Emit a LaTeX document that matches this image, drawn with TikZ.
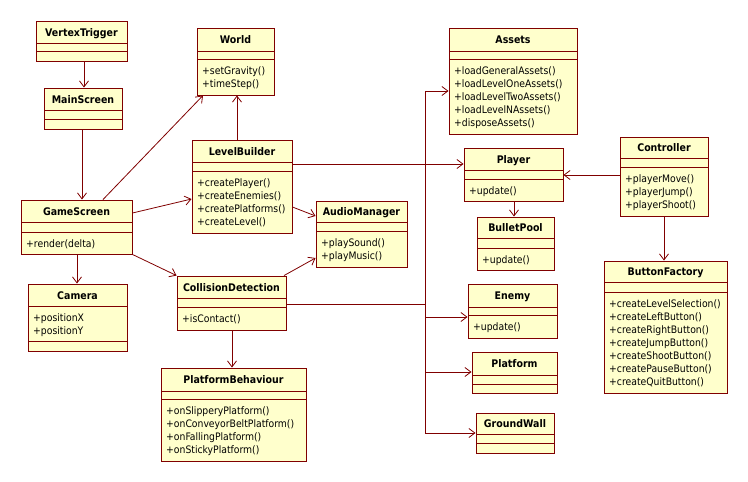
\documentclass[tikz,border=0pt]{standalone}
\usepackage{fontspec}
\setmainfont{DejaVu Sans Condensed}
\usetikzlibrary{arrows.meta,fit}
\definecolor{umlline}{RGB}{128,0,0}
\definecolor{umlfill}{RGB}{255,255,204}
\tikzset{
 clsbox/.style={draw=umlline, fill=umlfill, line width=0.9pt, inner sep=0pt},
 sepline/.style={draw=umlline, line width=0.9pt},
 clstitle/.style={font=\fontsize{10.5}{13}\selectfont\bfseries, inner sep=0pt, anchor=base},
 member/.style={font=\fontsize{10.3}{13}\selectfont, inner sep=0pt, anchor=base west},
 assoc/.style={draw=umlline, line width=0.8pt, -{Straight Barb[length=6pt,width=9pt,line width=0.8pt]}},
 plainline/.style={draw=umlline, line width=0.8pt},
}
\newcommand\umlclass[9]{%
  \node[clsbox, fit={(#2,#3) (#4,#5)}] (#1) {};
  \draw[sepline] (#2,#6) -- (#4,#6);
  \draw[sepline] (#2,#7) -- (#4,#7);
  \node[clstitle] (#1-t) at ({(#2+#4)/2},{(#3+#6)/2+4}) {#8};
  \if\relax\detokenize{#9}\relax\else
    \foreach \m [count=\i] in {#9} {\node[member] (#1-m\i) at (#2+5,{#7+2+13*\i}) {\m};}
  \fi
}
\begin{document}
\begin{tikzpicture}[x=1pt,y=-1pt]
\fill[white] (0,0) rectangle (748,482);
\useasboundingbox (0,0) rectangle (748,482);

\umlclass{vt}{36}{21}{127}{61}{43}{51}{VertexTrigger}{}
\umlclass{ms}{44}{88}{122}{129}{110}{119}{MainScreen}{}
\umlclass{world}{197}{28}{274}{95}{51}{59}{World}{+setGravity(),+timeStep()}
\umlclass{lb}{192}{140}{292}{233}{162}{171}{LevelBuilder}{+createPlayer(),+createEnemies(),+createPlatforms(),+createLevel()}
\umlclass{gs}{21}{200}{132}{254}{222}{232}{GameScreen}{+render(delta)}
\umlclass{cam}{28}{284}{127}{351}{306}{341}{Camera}{}
\node[member] (cam-m1) at (33,321) {+positionX};
\node[member] (cam-m2) at (33,334) {+positionY};
\umlclass{am}{316}{201}{407}{267}{222}{231}{AudioManager}{+playSound(),+playMusic()}
\umlclass{cd}{177}{276}{286}{330}{298}{307}{CollisionDetection}{+isContact()}
\umlclass{pb}{161}{368}{306}{461}{391}{399}{PlatformBehaviour}{+onSlipperyPlatform(),+onConveyorBeltPlatform(),+onFallingPlatform(),+onStickyPlatform()}
\umlclass{assets}{449}{28}{577}{134}{51}{59}{Assets}{+loadGeneralAssets(),+loadLevelOneAssets(),+loadLevelTwoAssets(),+loadLevelNAssets(),+disposeAssets()}
\umlclass{player}{464}{148}{563}{201}{170}{179}{Player}{+update()}
\umlclass{bp}{477}{217}{554}{270}{238}{248}{BulletPool}{+update()}
\umlclass{ctrl}{620}{137}{708}{216}{158}{167}{Controller}{+playerMove(),+playerJump(),+playerShoot()}
\umlclass{bf}{604}{261}{727}{393}{282}{292}{ButtonFactory}{+createLevelSelection(),+createLeftButton(),+createRightButton(),+createJumpButton(),+createShootButton(),+createPauseButton(),+createQuitButton()}
\umlclass{enemy}{468}{284}{557}{338}{307}{315}{Enemy}{+update()}
\umlclass{plat}{472}{352}{557}{393}{375}{384}{Platform}{}
\umlclass{gw}{476}{413}{554}{453}{434}{443}{GroundWall}{}

% connectors
\draw[assoc] (vt.south -| 84,0) -- (ms.north -| 84,0);
\draw[assoc] (ms.south -| 82,0) -- (gs.north -| 82,0);
\draw[assoc] (gs.north -| 103,0) -- (world.south -| 203,0);
\draw[assoc] (lb.north -| 237,0) -- (world.south -| 237,0);
\draw[assoc] (gs.east |- 0,213) -- (lb.west |- 0,199);
\draw[assoc] (lb.east |- 0,207) -- (am.west |- 0,216);
\draw[assoc] (gs.south east) -- (cd.north west);
\draw[assoc] (cd.north -| 284,0) -- (am.west |- 0,258);
\draw[assoc] (lb.east |- 0,164) -- (player.west |- 0,164);
\coordinate (bus) at (425,304);
\draw[plainline] (cd.east |- bus) -- (bus);
\draw[assoc] (bus) |- (assets.west |- 0,91);
\draw[assoc] (bus) |- (enemy.west |- 0,317);
\draw[assoc] (bus) |- (plat.west |- 0,372);
\draw[assoc] (bus) |- (gw.west |- 0,433);
\draw[assoc] (ctrl.west |- 0,175) -- (player.east |- 0,175);
\draw[assoc] (player.south -| 514,0) -- (bp.north -| 514,0);
\draw[assoc] (ctrl.south -| 664,0) -- (bf.north -| 664,0);
\draw[assoc] (gs.south -| 77,0) -- (cam.north -| 77,0);
\draw[assoc] (cd.south -| 232,0) -- (pb.north -| 232,0);
\end{tikzpicture}
\end{document}
